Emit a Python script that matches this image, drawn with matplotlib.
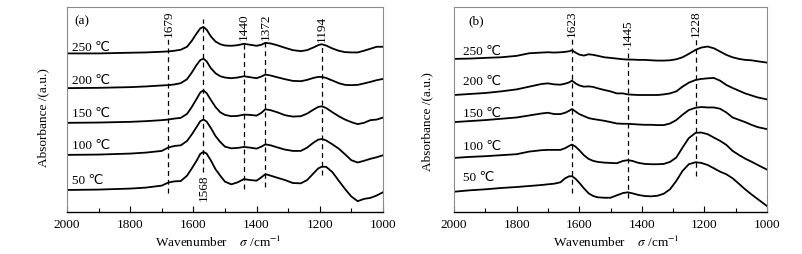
import matplotlib
matplotlib.use("Agg")
import matplotlib.pyplot as plt
from matplotlib.ticker import MultipleLocator

plt.rcParams['font.family'] = ['Liberation Serif', 'DejaVu Sans', 'Noto Sans CJK SC']
plt.rcParams['mathtext.fontset'] = 'stix'

temps = ["50 \u2103", "100 \u2103", "150 \u2103", "200 \u2103", "250 \u2103"]

# ---- panel (a): stacked spectra, absorbance in a.u. (offsets included)
wn_a = [2000, 1900, 1800, 1750, 1700, 1680, 1660, 1640, 1620, 1605, 1590, 1578, 1568,
        1558, 1545, 1530, 1515, 1500, 1480, 1460, 1440, 1420, 1400, 1385, 1372, 1355,
        1335, 1310, 1285, 1260, 1240, 1220, 1205, 1194, 1180, 1160, 1140, 1120, 1100,
        1080, 1060, 1040, 1020, 1000]
a_50 = [0.223, 0.227, 0.237, 0.247, 0.267, 0.297, 0.310, 0.313, 0.367, 0.440, 0.517,
        0.587, 0.607, 0.590, 0.523, 0.433, 0.367, 0.307, 0.280, 0.300, 0.333, 0.323,
        0.317, 0.350, 0.383, 0.367, 0.347, 0.323, 0.293, 0.290, 0.323, 0.390, 0.440,
        0.457, 0.457, 0.403, 0.317, 0.233, 0.157, 0.110, 0.133, 0.143, 0.167, 0.200]
a_100 = [0.577, 0.580, 0.590, 0.600, 0.617, 0.650, 0.667, 0.673, 0.717, 0.783, 0.857,
         0.917, 0.933, 0.913, 0.850, 0.767, 0.707, 0.660, 0.643, 0.647, 0.657, 0.650,
         0.640, 0.660, 0.683, 0.673, 0.653, 0.630, 0.617, 0.617, 0.650, 0.700, 0.730,
         0.737, 0.723, 0.683, 0.640, 0.583, 0.523, 0.500, 0.517, 0.537, 0.553, 0.573]
a_150 = [0.900, 0.903, 0.910, 0.917, 0.927, 0.933, 0.943, 0.950, 0.990, 1.060, 1.140,
         1.207, 1.227, 1.200, 1.133, 1.060, 1.007, 0.980, 0.967, 0.970, 0.983, 0.980,
         0.973, 1.000, 1.037, 1.027, 1.007, 0.977, 0.963, 0.967, 0.993, 1.033, 1.060,
         1.067, 1.050, 1.007, 0.967, 0.933, 0.907, 0.887, 0.900, 0.927, 0.933, 0.953]
a_200 = [1.250, 1.253, 1.260, 1.267, 1.277, 1.280, 1.287, 1.300, 1.340, 1.407, 1.483,
         1.533, 1.547, 1.520, 1.453, 1.400, 1.370, 1.357, 1.350, 1.357, 1.370, 1.360,
         1.350, 1.367, 1.387, 1.377, 1.360, 1.340, 1.323, 1.320, 1.333, 1.353, 1.363,
         1.363, 1.353, 1.327, 1.300, 1.283, 1.280, 1.283, 1.297, 1.313, 1.330, 1.343]
a_250 = [1.600, 1.600, 1.607, 1.610, 1.617, 1.620, 1.627, 1.637, 1.667, 1.727, 1.800,
         1.853, 1.867, 1.840, 1.773, 1.720, 1.693, 1.680, 1.677, 1.683, 1.697, 1.687,
         1.677, 1.687, 1.707, 1.700, 1.683, 1.657, 1.633, 1.623, 1.633, 1.660, 1.683,
         1.693, 1.680, 1.650, 1.627, 1.613, 1.610, 1.610, 1.627, 1.647, 1.667, 1.667]
peaks_a = [1679, 1568, 1440, 1372, 1194]
peak_top_a = [1.75, 1.95, 1.72, 1.72, 1.70]
peak_bot_a = [0.19, 0.40, 0.23, 0.25, 0.37]

# ---- panel (b)
wn_b = [2000, 1950, 1900, 1850, 1800, 1760, 1720, 1700, 1680, 1660, 1645, 1632, 1623,
        1612, 1600, 1585, 1570, 1555, 1540, 1520, 1500, 1480, 1460, 1445, 1430, 1410,
        1390, 1370, 1350, 1330, 1310, 1290, 1270, 1250, 1228, 1210, 1190, 1170, 1150,
        1130, 1110, 1090, 1070, 1050, 1030, 1000]
b_50 = [0.203, 0.217, 0.227, 0.240, 0.250, 0.260, 0.270, 0.277, 0.283, 0.297, 0.337,
        0.357, 0.357, 0.333, 0.293, 0.237, 0.187, 0.160, 0.147, 0.143, 0.143, 0.167,
        0.190, 0.197, 0.187, 0.170, 0.160, 0.157, 0.163, 0.183, 0.227, 0.310, 0.410,
        0.477, 0.497, 0.490, 0.470, 0.437, 0.403, 0.377, 0.337, 0.283, 0.227, 0.177,
        0.130, 0.060]
b_100 = [0.540, 0.550, 0.557, 0.567, 0.577, 0.603, 0.617, 0.620, 0.620, 0.620, 0.637,
         0.660, 0.673, 0.653, 0.617, 0.567, 0.530, 0.510, 0.500, 0.493, 0.490, 0.487,
         0.510, 0.517, 0.510, 0.490, 0.480, 0.477, 0.477, 0.480, 0.500, 0.543, 0.643,
         0.737, 0.790, 0.793, 0.777, 0.743, 0.710, 0.670, 0.610, 0.570, 0.533, 0.503,
         0.470, 0.423]
b_150 = [0.897, 0.907, 0.917, 0.930, 0.943, 0.963, 0.983, 0.990, 0.977, 0.977, 0.990,
         1.010, 1.027, 1.003, 0.977, 0.957, 0.937, 0.927, 0.920, 0.910, 0.897, 0.883,
         0.880, 0.880, 0.877, 0.873, 0.870, 0.870, 0.867, 0.867, 0.883, 0.917, 0.970,
         1.017, 1.040, 1.047, 1.043, 1.043, 1.030, 0.993, 0.943, 0.920, 0.897, 0.870,
         0.847, 0.827]
b_200 = [1.167, 1.177, 1.187, 1.203, 1.223, 1.250, 1.277, 1.283, 1.273, 1.270, 1.280,
         1.293, 1.310, 1.283, 1.263, 1.250, 1.253, 1.247, 1.233, 1.217, 1.203, 1.183,
         1.183, 1.173, 1.170, 1.167, 1.167, 1.167, 1.167, 1.173, 1.183, 1.203, 1.250,
         1.290, 1.317, 1.327, 1.333, 1.337, 1.310, 1.267, 1.237, 1.210, 1.183, 1.163,
         1.143, 1.123]
b_250 = [1.527, 1.530, 1.537, 1.543, 1.557, 1.583, 1.590, 1.593, 1.590, 1.593, 1.597,
         1.603, 1.613, 1.590, 1.570, 1.560, 1.573, 1.567, 1.557, 1.543, 1.537, 1.530,
         1.523, 1.520, 1.520, 1.517, 1.517, 1.513, 1.510, 1.510, 1.513, 1.523, 1.543,
         1.577, 1.617, 1.640, 1.650, 1.633, 1.600, 1.567, 1.543, 1.527, 1.517, 1.513,
         1.503, 1.490]
peaks_b = [1623, 1445, 1228]
peak_top_b = [1.73, 1.64, 1.73]
peak_bot_b = [0.19, 0.14, 0.36]

lab_y_a = [0.317, 0.667, 0.99, 1.323, 1.657]
lab_y_b = [0.343, 0.653, 0.977, 1.30, 1.593]

fig = plt.figure(figsize=(8.03, 2.54), dpi=100)
ax1 = fig.add_axes([0.0834, 0.165, 0.3935, 0.807])
ax2 = fig.add_axes([0.5654, 0.165, 0.3898, 0.807])

fs = 9.5
lw = 1.3

def style_axis(ax, ymax):
    ax.set_xlim(2000, 1000)
    ax.set_ylim(0, ymax)
    ax.xaxis.set_major_locator(MultipleLocator(200))
    ax.xaxis.set_minor_locator(MultipleLocator(100))
    ax.tick_params(axis='x', which='both', direction='in', top=False, labelsize=fs, pad=5)
    ax.tick_params(axis='x', which='major', length=4, width=0.8)
    ax.tick_params(axis='x', which='minor', length=3, width=0.8)
    ax.set_yticks([])
    for side in ['top', 'right', 'left']:
        ax.spines[side].set_color('#8c8c8c')
        ax.spines[side].set_linewidth(0.8)
    ax.spines['bottom'].set_linewidth(1.0)
    ax.set_xlabel(r"Wavenumber    $\sigma$ /cm$^{-1}$", fontsize=fs)
    ax.set_ylabel("Absorbance /(a.u.)", fontsize=fs)

# panel (a)
for y in [a_50, a_100, a_150, a_200, a_250]:
    ax1.plot(wn_a, y, color='black', lw=lw)
for t, ly in zip(temps, lab_y_a):
    ax1.text(1983, ly, t, fontsize=fs, va='center', ha='left')
for p, top, bot in zip(peaks_a, peak_top_a, peak_bot_a):
    ax1.plot([p, p], [bot, top], color='black', lw=0.9, ls=(0, (4, 3)))
    if p == 1568:
        ax1.text(p, bot - 0.02, str(p), rotation=90, fontsize=fs, ha='center', va='top')
    else:
        ax1.text(p, top + 0.02, str(p), rotation=90, fontsize=fs, ha='center', va='bottom')
ax1.text(1976, 1.927, "(a)", fontsize=fs, va='center', ha='left')
style_axis(ax1, 2.067)
ax1.xaxis.set_label_coords(0.478, -0.11)
ax1.yaxis.set_label_coords(-0.055, 0.46)

# panel (b)
for y in [b_50, b_100, b_150, b_200, b_250]:
    ax2.plot(wn_b, y, color='black', lw=lw)
for t, ly in zip(temps, lab_y_b):
    ax2.text(1970, ly, t, fontsize=fs, va='center', ha='left')
for p, top, bot in zip(peaks_b, peak_top_b, peak_bot_b):
    ax2.plot([p, p], [bot, top], color='black', lw=0.9, ls=(0, (4, 3)))
    ax2.text(p, top + 0.02, str(p), rotation=90, fontsize=fs, ha='center', va='bottom')
ax2.text(1954, 1.903, "(b)", fontsize=fs, va='center', ha='left')
style_axis(ax2, 2.043)
ax2.xaxis.set_label_coords(0.52, -0.11)
ax2.yaxis.set_label_coords(-0.066, 0.44)

fig.savefig("out.png", dpi=100)
